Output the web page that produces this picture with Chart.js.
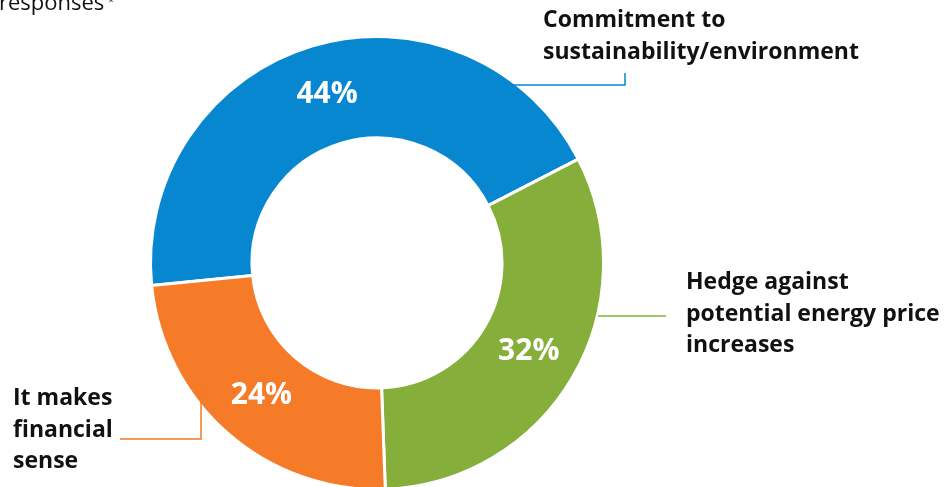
<!DOCTYPE html>
<html>
<head>
<meta charset="utf-8">
<script src="https://cdn.jsdelivr.net/npm/chart.js@4.4.1/dist/chart.umd.min.js"></script>
<style>
  html, body { margin: 0; padding: 0; background: #fff; overflow: hidden; }
  #wrap { width: 951px; height: 487px; position: relative; }
</style>
</head>
<body>
<div id="wrap"><canvas id="reasons-chart"></canvas></div>
<script>
const categories = ['Commitment to sustainability/environment', 'Hedge against potential energy price increases', 'It makes financial sense'];
const shares = [44, 32, 24];
const sliceColors = ['#0787cf', '#86ae3b', '#f57b29'];
// category names broken over lines for the callouts
const labelLines = [
  ['Commitment to', 'sustainability/environment'],
  ['Hedge against', 'potential energy price', 'increases'],
  ['It makes', 'financial', 'sense']
];

// callout text position (first baseline) and leader line path, per slice
const callouts = [
  { x: 543, y: 27, path: [[502, 85], [625, 85], [625, 73]] },
  { x: 686, y: 289, path: [[598, 316], [666, 316]] },
  { x: 13, y: 405, path: [[201, 378], [201, 439], [120, 439]] }
];

const FONT = '"Open Sans", "Noto Sans", sans-serif';

const sliceLabels = {
  id: 'sliceLabels',
  afterDatasetsDraw(chart) {
    const ctx = chart.ctx;
    const arcs = chart.getDatasetMeta(0).data;
    ctx.save();
    ctx.fillStyle = '#ffffff';
    ctx.font = 'bold 30px ' + FONT;
    ctx.textAlign = 'center';
    ctx.textBaseline = 'middle';
    arcs.forEach((arc, i) => {
      const p = arc.getCenterPoint();
      ctx.fillText(shares[i] + '%', p.x, p.y);
    });
    ctx.restore();
  }
};

const calloutLabels = {
  id: 'calloutLabels',
  afterDraw(chart) {
    const ctx = chart.ctx;
    ctx.save();
    // leader lines
    callouts.forEach((c, i) => {
      ctx.strokeStyle = sliceColors[i];
      ctx.lineWidth = 1.5;
      ctx.beginPath();
      c.path.forEach(([px, py], k) => k ? ctx.lineTo(px, py) : ctx.moveTo(px, py));
      ctx.stroke();
    });
    // category text
    ctx.fillStyle = '#111111';
    ctx.font = 'bold 23px ' + FONT;
    ctx.textAlign = 'left';
    ctx.textBaseline = 'alphabetic';
    callouts.forEach((c, i) => {
      labelLines[i].forEach((line, k) => ctx.fillText(line, c.x, c.y + k * 31.5));
    });
    // note text at the top, partly cut off
    ctx.font = '22px ' + FONT;
    ctx.fillText('responses', -1, 10);
    ctx.font = '11px ' + FONT;
    ctx.fillText('*', 108, 5);
    ctx.restore();
  }
};

const ctx = document.getElementById('reasons-chart').getContext('2d');
new Chart(ctx, {
  type: 'doughnut',
  data: {
    labels: categories,
    datasets: [{
      data: shares,
      backgroundColor: sliceColors,
      borderColor: '#ffffff',
      borderWidth: 3,
      hoverOffset: 0
    }]
  },
  options: {
    responsive: true,
    maintainAspectRatio: false,
    animation: false,
    events: [],
    rotation: -95.7,
    radius: 226.5,
    cutout: '55.2%',
    layout: { padding: { left: 0, right: 197, top: 39, bottom: 0 } },
    plugins: {
      legend: { display: false },
      tooltip: { enabled: false }
    }
  },
  plugins: [sliceLabels, calloutLabels]
});
</script>
</body>
</html>
